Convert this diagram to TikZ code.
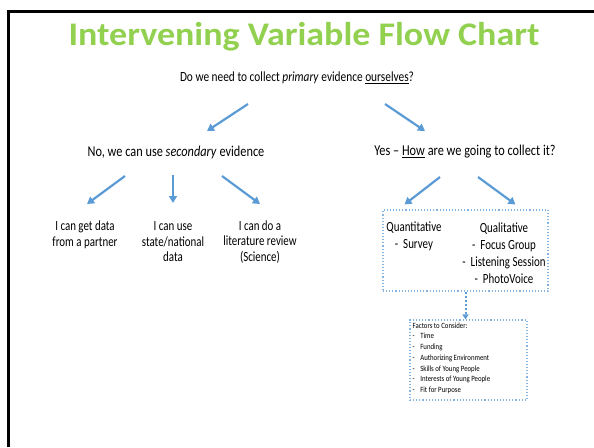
\documentclass[tikz,border=0pt]{standalone}
\usepackage{fontspec}
\setmainfont{Carlito}
\usetikzlibrary{arrows.meta,positioning}

\definecolor{flowblue}{HTML}{5B9BD5}
\definecolor{titlegreen}{HTML}{92D050}
\newcommand{\dashitem}[1]{\makebox[9pt][l]{-}#1}

\tikzset{
  flowarrow/.style={draw=flowblue, line width=2.2pt, -{Triangle[length=7pt,width=8pt]}},
  flowtext/.style={align=center, inner sep=0pt, xscale=0.78, font=\fontsize{14}{15.5}\selectfont},
  dotbox/.style={draw=flowblue!75, dotted, line width=1.1pt},
}

\begin{document}
\begin{tikzpicture}[x=1pt,y=-1pt]
  \useasboundingbox (0,0) rectangle (594,447);
  % slide frame
  \draw[line width=3pt] (8,447) -- (8,11) -- (594,11);

  \node [text=titlegreen, xscale=1.09, font=\fontsize{33}{36}\selectfont\bfseries] (title) at (304,37) {Intervening Variable Flow Chart};
  \node [flowtext, xscale=0.81/0.78] (q) at (297,78) {Do we need to collect \emph{primary} evidence \underline{ourselves}?};

  \node [flowtext, xscale=0.82/0.78, font=\fontsize{15}{17}\selectfont] (no) at (176,152) {No, we can use \emph{secondary} evidence};
  \node [flowtext, xscale=0.82/0.78, font=\fontsize{15}{17}\selectfont] (yes) at (465,152) {Yes -- \underline{How} are we going to collect it?};

  \node [flowtext] (partner) at (85,235) {I can get data\\from a partner};
  \node [flowtext] (national) at (173,242) {I can use\\state/national\\data};
  \node [flowtext] (review) at (260,242) {I can do a\\literature review\\(Science)};

  \node [dotbox, minimum width=165pt, minimum height=81pt] (methods) at (465.5,250.5) {};
  \node [flowtext, font=\fontsize{14}{17}\selectfont] (quant) at (414,236.5) {Quantitative\\- \ Survey};
  \node [flowtext, font=\fontsize{14}{17}\selectfont] (qual) at (504,253.5) {Qualitative\\- \ Focus Group\\- \ Listening Session\\- \ PhotoVoice};

  \node [dotbox, minimum width=117pt, minimum height=80pt] (factors) at (468.5,360) {};
  \node [anchor=north west, align=left, inner sep=0pt, xscale=0.85, font=\fontsize{8}{10.7}\selectfont] (factorlist) at (412.5,322.5)
    {Factors to Consider:\\\dashitem{Time}\\\dashitem{Funding}\\\dashitem{Authorizing Environment}\\\dashitem{Skills of Young People}\\\dashitem{Interests of Young People}\\\dashitem{Fit for Purpose}};

  % arrows
  \draw[flowarrow] ([shift={(-49,26)}]q.center) -- ([shift={(31,-21)}]no.center);
  \draw[flowarrow] ([shift={(88,26)}]q.center) -- ([shift={(-40,-21)}]yes.center);
  \draw[flowarrow] ([shift={(-51,24)}]no.center) -- ([shift={(2,-31)}]partner.center);
  \draw[flowarrow] ([shift={(-3,23)}]no.center) -- ([shift={(0,-39)}]national.center);
  \draw[flowarrow] ([shift={(46,24)}]no.center) -- ([shift={(0,-38)}]review.center);
  \draw[flowarrow] ([shift={(-25,25)}]yes.center) -- ([shift={(-61,-46)}]methods.center);
  \draw[flowarrow] ([shift={(13,25)}]yes.center) -- ([shift={(50,-46)}]methods.center);
  \draw[draw=flowblue, dotted, line width=2pt, -{Triangle[length=5pt,width=6pt]}] (methods.south) -- (methods.south |- factors.north);
\end{tikzpicture}
\end{document}
